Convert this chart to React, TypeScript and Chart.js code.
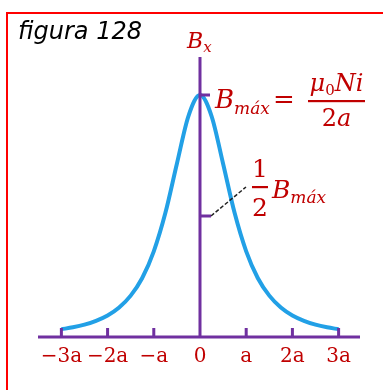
import React, { useEffect, useRef } from "react";
import { Chart, registerables } from "chart.js";

Chart.register(...registerables);

// Axial field of a circular coil, in units of B_máx, against x in units of a
const xValues = [-3, -2.75, -2.5, -2.25, -2, -1.75, -1.5, -1.25, -1, -0.75, -0.5, -0.25, 0,
  0.25, 0.5, 0.75, 1, 1.25, 1.5, 1.75, 2, 2.25, 2.5, 2.75, 3];
const bValues = [0.032, 0.040, 0.051, 0.067, 0.089, 0.122, 0.171, 0.244, 0.354, 0.512, 0.716, 0.913, 1,
  0.913, 0.716, 0.512, 0.354, 0.244, 0.171, 0.122, 0.089, 0.067, 0.051, 0.040, 0.032];

const tickValues = [-3, -2, -1, 0, 1, 2, 3];
const tickLabels = ["\u22123a", "\u22122a", "\u2212a", "0", "a", "2a", "3a"];

const maxLevel = 1;
const halfLevel = 0.5;

const RED = "#C00000";
const PURPLE = "#7030A0";
const BLUE = "#22A0E6";
const SERIF = '"DejaVu Serif", serif';

type Part = { t: string; size: number; italic?: boolean; dy?: number };

function drawRun(ctx: CanvasRenderingContext2D, x: number, baseline: number, parts: Part[]) {
  let cx = x;
  for (const p of parts) {
    ctx.font = `${p.italic ? "italic " : ""}${p.size}px ${SERIF}`;
    ctx.fillText(p.t, cx, baseline + (p.dy || 0));
    cx += ctx.measureText(p.t).width;
  }
  return cx - x;
}

function runWidth(ctx: CanvasRenderingContext2D, parts: Part[]) {
  let w = 0;
  for (const p of parts) {
    ctx.font = `${p.italic ? "italic " : ""}${p.size}px ${SERIF}`;
    w += ctx.measureText(p.t).width;
  }
  return w;
}

const decorations = {
  id: "coilDecorations",
  afterDatasetsDraw(chart: any) {
    const { ctx, chartArea, scales, width, height } = chart;
    const xs = scales.x;
    const ys = scales.y;
    const x0 = xs.getPixelForValue(0);
    const y0 = ys.getPixelForValue(0);
    const yMax = ys.getPixelForValue(maxLevel);
    const yHalf = ys.getPixelForValue(halfLevel);

    ctx.save();

    // frame: top and left edges (the box continues past the canvas)
    ctx.fillStyle = "#FF0000";
    ctx.fillRect(6, 12, 2, height - 12);
    ctx.fillRect(6, 12, width - 6, 2);

    // caption
    ctx.fillStyle = "#000";
    ctx.font = 'italic 24px "DejaVu Sans", sans-serif';
    ctx.textAlign = "left";
    ctx.textBaseline = "alphabetic";
    ctx.fillText("figura 128", 18, 39);

    // axes
    ctx.strokeStyle = PURPLE;
    ctx.lineWidth = 3;
    ctx.lineCap = "butt";
    ctx.beginPath();
    ctx.moveTo(chartArea.left, y0);
    ctx.lineTo(chartArea.right, y0);
    ctx.moveTo(x0, chartArea.top);
    ctx.lineTo(x0, y0);
    ctx.stroke();

    // ticks on the x axis
    ctx.beginPath();
    for (const v of tickValues) {
      if (v === 0) continue;
      const px = xs.getPixelForValue(v);
      ctx.moveTo(px, y0);
      ctx.lineTo(px, y0 - 9);
    }
    // B_máx and half-level marks on the vertical axis
    ctx.moveTo(x0, yMax);
    ctx.lineTo(x0 + 10, yMax);
    ctx.moveTo(x0, yHalf);
    ctx.lineTo(x0 + 11, yHalf);
    ctx.stroke();

    // tick labels
    ctx.fillStyle = RED;
    ctx.font = `20px ${SERIF}`;
    ctx.textAlign = "center";
    tickValues.forEach((v, i) => {
      ctx.fillText(tickLabels[i], xs.getPixelForValue(v), y0 + 25);
    });

    // leader from the half mark to its label
    const hx = x0 + 52;
    const hBar = yHalf - 29;
    ctx.strokeStyle = "#222";
    ctx.lineWidth = 1.5;
    ctx.setLineDash([4, 2]);
    ctx.beginPath();
    ctx.moveTo(x0 + 11, yHalf);
    ctx.lineTo(x0 + 46, hBar);
    ctx.stroke();
    ctx.setLineDash([]);

    ctx.textAlign = "left";
    ctx.fillStyle = RED;

    // B_x at the top of the vertical axis
    drawRun(ctx, x0 - 13, chartArea.top - 9, [
      { t: "B", size: 22, italic: true },
      { t: "x", size: 15, italic: true, dy: 4 },
    ]);

    // B_máx = μ0Ni / 2a
    const bx = x0 + 15;
    const bBase = yMax + 13;
    drawRun(ctx, bx, bBase, [
      { t: "B", size: 26, italic: true },
      { t: "máx", size: 17, italic: true, dy: 6 },
    ]);
    ctx.font = `26px ${SERIF}`;
    ctx.fillText("=", x0 + 73, bBase);
    const barL = x0 + 108;
    const barR = x0 + 165;
    const barY = yMax + 6;
    ctx.fillRect(barL, barY - 1, barR - barL, 2.2);
    const num: Part[] = [
      { t: "μ", size: 24, italic: true },
      { t: "0", size: 15, dy: 4 },
      { t: "Ni", size: 24, italic: true },
    ];
    drawRun(ctx, (barL + barR) / 2 - runWidth(ctx, num) / 2, barY - 10, num);
    const den: Part[] = [
      { t: "2", size: 24 },
      { t: "a", size: 24, italic: true },
    ];
    drawRun(ctx, (barL + barR) / 2 - runWidth(ctx, den) / 2, barY + 25, den);

    // ½ B_máx
    ctx.fillRect(hx, hBar - 1, 16, 2.2);
    ctx.textAlign = "center";
    ctx.font = `25px ${SERIF}`;
    ctx.fillText("1", hx + 8, hBar - 10);
    ctx.fillText("2", hx + 8, hBar + 29);
    ctx.textAlign = "left";
    drawRun(ctx, hx + 20, hBar + 11, [
      { t: "B", size: 25, italic: true },
      { t: "máx", size: 17, italic: true, dy: 5 },
    ]);

    ctx.restore();
  },
};

export default function App() {
  const canvasRef = useRef<HTMLCanvasElement | null>(null);

  useEffect(() => {
    const canvas = canvasRef.current;
    if (!canvas) return;
    const chart = new Chart(canvas, {
      type: "line",
      data: {
        datasets: [
          {
            data: xValues.map((x, i) => ({ x, y: bValues[i] })),
            borderColor: BLUE,
            borderWidth: 4,
            pointRadius: 0,
            cubicInterpolationMode: "monotone",
            fill: false,
            clip: false,
          } as any,
        ],
      },
      options: {
        animation: false,
        responsive: false,
        devicePixelRatio: 1,
        layout: { padding: { left: 38, right: 23, top: 57, bottom: 53 } },
        scales: {
          x: { type: "linear", min: -3.506, max: 3.463, display: false },
          y: { type: "linear", min: 0, max: 1.157, display: false },
        },
        plugins: {
          legend: { display: false },
          tooltip: { enabled: false },
        },
      },
      plugins: [decorations],
    });
    return () => chart.destroy();
  }, []);

  return (
    <div style={{ position: "absolute", left: 0, top: 0, width: 383, height: 390, background: "#fff" }}>
      <canvas ref={canvasRef} width={383} height={390} style={{ display: "block" }} />
    </div>
  );
}
